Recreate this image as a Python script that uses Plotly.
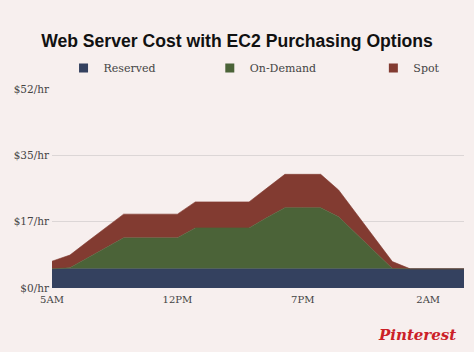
import plotly.graph_objects as go

hour_labels = ["5AM", "6AM", "7AM", "8AM", "9AM", "10AM", "11AM", "12PM",
               "1PM", "2PM", "3PM", "4PM", "5PM", "6PM", "7PM", "8PM",
               "9PM", "10PM", "11PM", "12AM", "1AM", "2AM", "3AM", "4AM"]

reserved = [5.0, 5.0, 5.0, 5.0, 5.0, 5.0, 5.0, 5.0, 5.0, 5.0, 5.0, 5.0,
            5.0, 5.0, 5.0, 5.0, 5.0, 5.0, 5.0, 5.0, 5.0, 5.0, 5.0, 5.0]
on_demand = [0.0, 0.3, 2.9, 5.5, 8.1, 8.1, 8.1, 8.1, 10.7, 10.7, 10.7, 10.7,
             13.4, 16.0, 16.0, 16.0, 13.6, 9.1, 4.6, 0.1, 0.0, 0.0, 0.0, 0.0]
spot = [2.0, 3.3, 4.3, 5.2, 6.2, 6.2, 6.2, 6.2, 6.8, 6.8, 6.8, 6.8,
        7.7, 8.7, 8.7, 8.7, 7.0, 5.2, 3.4, 1.8, 0.0, 0.0, 0.0, 0.0]

tick_vals = [0, 17.33, 34.67, 52]
tick_text = ["$0/hr", "$17/hr", "$35/hr", "$52/hr"]
x_tick_labels = ["5AM", "12PM", "7PM", "2AM"]

series = [("Reserved", reserved, "#34415f", "legend"),
          ("On-Demand", on_demand, "#4b6338", "legend2"),
          ("Spot", spot, "#823b31", "legend3")]

BG = "#f7efee"
SERIF = "DejaVu Serif"

fig = go.Figure()
for name, vals, color, lg in series:
    fig.add_trace(go.Scatter(
        x=hour_labels, y=vals, name=name, stackgroup="one", mode="lines",
        line=dict(width=0.6, color=color), fillcolor=color,
        showlegend=False, hoverinfo="skip"))
for name, vals, color, lg in series:
    fig.add_trace(go.Scatter(
        x=[None], y=[None], name=name, mode="markers",
        marker=dict(symbol="square", size=9, color=color),
        legend=lg, showlegend=True))

legend_common = dict(orientation="h", yanchor="middle", y=1.105,
                     xanchor="left", bgcolor="rgba(0,0,0,0)",
                     font=dict(family=SERIF, size=11, color="#444444"))
fig.update_layout(
    width=474, height=352,
    margin=dict(l=52, r=10, t=89, b=64),
    paper_bgcolor=BG, plot_bgcolor=BG,
    title=dict(text="<b>Web Server Cost with EC2 Purchasing Options</b>",
               x=0.5, xanchor="center", y=0.885, yanchor="middle",
               font=dict(family="Liberation Sans", size=17.6, color="#111111")),
    legend=dict(x=0.028, **legend_common),
    legend2=dict(x=0.383, **legend_common),
    legend3=dict(x=0.78, **legend_common),
    xaxis=dict(type="category", range=[0, 23], tickmode="array",
               tickvals=x_tick_labels, ticktext=x_tick_labels,
               showgrid=False, zeroline=False, showline=False, ticks="",
               ticklabelstandoff=4,
               tickfont=dict(family=SERIF, size=10, color="#444444")),
    yaxis=dict(range=[0, 52], tickmode="array", tickvals=tick_vals,
               ticktext=tick_text, showgrid=True, gridcolor="#dcd6d6",
               gridwidth=1, zeroline=False, showline=False, ticks="",
               ticklabelstandoff=2,
               tickfont=dict(family=SERIF, size=10.5, color="#444444")),
    showlegend=True,
    annotations=[dict(text="Pinterest", xref="paper", yref="paper",
                      x=0.985, y=-0.235, xanchor="right", yanchor="middle",
                      showarrow=False,
                      font=dict(family=SERIF, size=15, color="#cb2027",
                                weight="bold", style="italic"))],
)

fig.write_html("out.html")
